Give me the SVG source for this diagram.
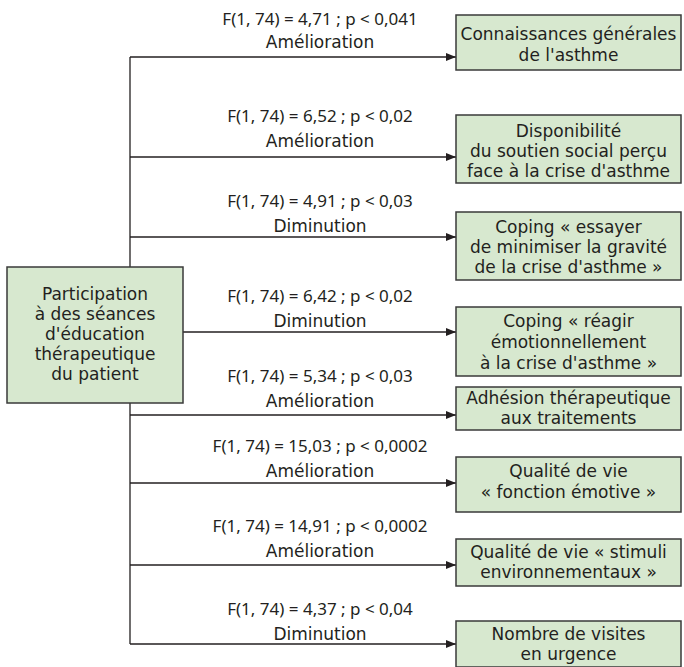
<svg xmlns="http://www.w3.org/2000/svg" width="684" height="667" viewBox="0 0 684 667">
<defs>
<marker id="ah" markerWidth="11" markerHeight="8" refX="10" refY="4" orient="auto" markerUnits="userSpaceOnUse">
<path d="M0,0 L10,4 L0,8 Z" fill="#231f20"/>
</marker>
<style>
.box{fill:#d7e8cf;stroke:#3a3a3a;stroke-width:1.5}
.t{font-family:"DejaVu Sans",sans-serif;font-size:17px;fill:#231f20;text-anchor:middle}
.f{font-family:"Noto Sans","DejaVu Sans",sans-serif;font-size:17px;fill:#231f20;text-anchor:middle}
.c{stroke:#231f20;stroke-width:1.3;fill:none}
</style>
</defs>
<rect width="684" height="667" fill="#ffffff"/>
<g id="connectors">
<line class="c" x1="130" y1="57" x2="130" y2="644"/>
<line class="c" x1="130" y1="57" x2="456" y2="57" marker-end="url(#ah)"/>
<line class="c" x1="130" y1="157" x2="456" y2="157" marker-end="url(#ah)"/>
<line class="c" x1="130" y1="237" x2="456" y2="237" marker-end="url(#ah)"/>
<line class="c" x1="183" y1="332" x2="456" y2="332" marker-end="url(#ah)"/>
<line class="c" x1="130" y1="415" x2="456" y2="415" marker-end="url(#ah)"/>
<line class="c" x1="130" y1="483" x2="456" y2="483" marker-end="url(#ah)"/>
<line class="c" x1="130" y1="565" x2="456" y2="565" marker-end="url(#ah)"/>
<line class="c" x1="130" y1="644" x2="456" y2="644" marker-end="url(#ah)"/>
<text class="f" x="320" y="25">F(1, 74) = 4,71 ; p &lt; 0,041</text>
<text class="t" x="320" y="48">Amélioration</text>
<text class="f" x="320" y="122">F(1, 74) = 6,52 ; p &lt; 0,02</text>
<text class="t" x="320" y="147">Amélioration</text>
<text class="f" x="320" y="207">F(1, 74) = 4,91 ; p &lt; 0,03</text>
<text class="t" x="320" y="232">Diminution</text>
<text class="f" x="320" y="302">F(1, 74) = 6,42 ; p &lt; 0,02</text>
<text class="t" x="320" y="327">Diminution</text>
<text class="f" x="320" y="382">F(1, 74) = 5,34 ; p &lt; 0,03</text>
<text class="t" x="320" y="407">Amélioration</text>
<text class="f" x="320" y="452">F(1, 74) = 15,03 ; p &lt; 0,0002</text>
<text class="t" x="320" y="477">Amélioration</text>
<text class="f" x="320" y="532">F(1, 74) = 14,91 ; p &lt; 0,0002</text>
<text class="t" x="320" y="557">Amélioration</text>
<text class="f" x="320" y="615">F(1, 74) = 4,37 ; p &lt; 0,04</text>
<text class="t" x="320" y="640">Diminution</text>
</g>
<g id="source">
<rect class="box" x="7" y="267" width="176" height="136"/>
<text class="t" x="95" y="300">Participation</text>
<text class="t" x="95" y="320">à des séances</text>
<text class="t" x="95" y="340">d'éducation</text>
<text class="t" x="95" y="360">thérapeutique</text>
<text class="t" x="95" y="380">du patient</text>
</g>
<g id="n1">
<rect class="box" x="456" y="15" width="225" height="55"/>
<text class="t" x="568.5" y="40">Connaissances générales</text>
<text class="t" x="568.5" y="61">de l'asthme</text>
</g>
<g id="n2">
<rect class="box" x="456" y="115" width="225" height="68"/>
<text class="t" x="568.5" y="137">Disponibilité</text>
<text class="t" x="568.5" y="157">du soutien social perçu</text>
<text class="t" x="568.5" y="177">face à la crise d'asthme</text>
</g>
<g id="n3">
<rect class="box" x="456" y="212" width="225" height="68"/>
<text class="t" x="568.5" y="233">Coping « essayer</text>
<text class="t" x="568.5" y="253">de minimiser la gravité</text>
<text class="t" x="568.5" y="273">de la crise d'asthme »</text>
</g>
<g id="n4">
<rect class="box" x="456" y="307" width="225" height="69"/>
<text class="t" x="568.5" y="327">Coping « réagir</text>
<text class="t" x="568.5" y="348">émotionnellement</text>
<text class="t" x="568.5" y="369">à la crise d'asthme »</text>
</g>
<g id="n5">
<rect class="box" x="456" y="387" width="225" height="43"/>
<text class="t" x="568.5" y="404">Adhésion thérapeutique</text>
<text class="t" x="568.5" y="424">aux traitements</text>
</g>
<g id="n6">
<rect class="box" x="456" y="457" width="225" height="55"/>
<text class="t" x="568.5" y="477">Qualité de vie</text>
<text class="t" x="568.5" y="498">« fonction émotive »</text>
</g>
<g id="n7">
<rect class="box" x="456" y="539" width="225" height="47"/>
<text class="t" x="568.5" y="558">Qualité de vie « stimuli</text>
<text class="t" x="568.5" y="578">environnementaux »</text>
</g>
<g id="n8">
<rect class="box" x="456" y="621" width="225" height="46"/>
<text class="t" x="568.5" y="640">Nombre de visites</text>
<text class="t" x="568.5" y="660">en urgence</text>
</g>
</svg>
